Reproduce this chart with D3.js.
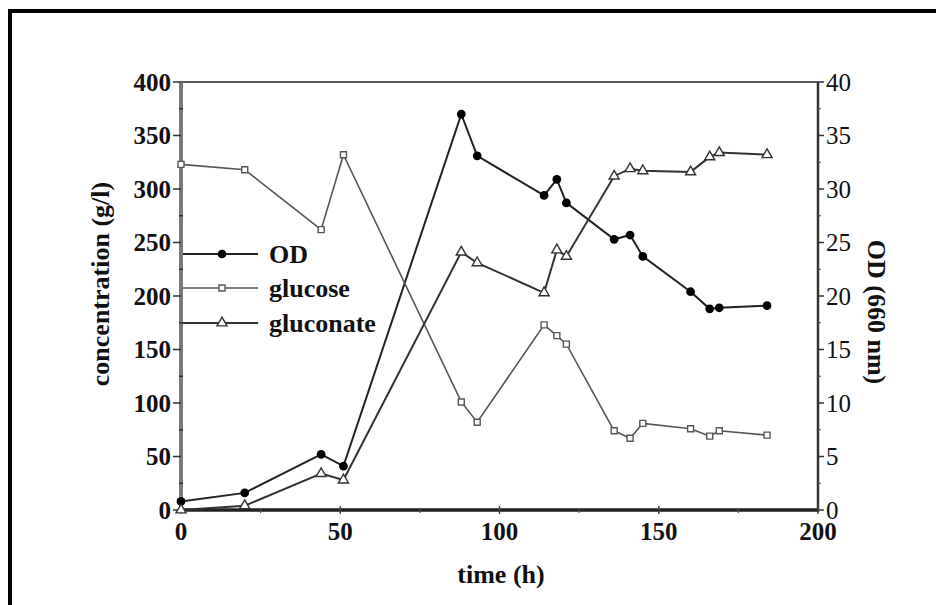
<!DOCTYPE html>
<html>
<head>
<meta charset="utf-8">
<script src="https://cdn.jsdelivr.net/npm/d3@7"></script>
<style>
	body { margin: 0; background: #fff; }
	svg { display: block; }
	text { font-family: "Liberation Serif", "DejaVu Serif", serif; fill: #111; }
</style>
</head>
<body>
<svg id="chart" width="936" height="605"></svg>
<script>
// time points (h)
var times = [0, 20, 44, 51, 88, 93, 114, 118, 121, 136, 141, 145, 160, 166, 169, 184];
// OD (660 nm), right axis
var odValues = [0.8, 1.6, 5.2, 4.1, 37.0, 33.1, 29.4, 30.9, 28.7, 25.3, 25.7, 23.7, 20.4, 18.8, 18.9, 19.1];
// glucose (g/l), left axis
var glucoseValues = [323, 318, 262, 332, 101, 82, 173, 163, 155, 74, 67, 81, 76, 69, 74, 70];
// gluconate (g/l), left axis
var gluconateValues = [0, 4, 34, 28, 241, 231, 203, 243, 237, 312, 319, 317, 316, 330, 334, 332];

var xTicks = [0, 50, 100, 150, 200];
var leftTicks = [0, 50, 100, 150, 200, 250, 300, 350, 400];
var rightTicks = [0, 5, 10, 15, 20, 25, 30, 35, 40];
var legendNames = ["OD", "glucose", "gluconate"];

var svg = d3.select("#chart");
var plotLeft = 181, plotRight = 818, plotTop = 82, plotBottom = 510;

var x = d3.scaleLinear().domain([0, 200]).range([plotLeft, plotRight]);
var yLeft = d3.scaleLinear().domain([0, 400]).range([plotBottom, plotTop]);
var yRight = d3.scaleLinear().domain([0, 40]).range([plotBottom, plotTop]);

// outer frame (runs off the right and bottom edge)
svg.append("rect")
	.attr("x", 10).attr("y", 11)
	.attr("width", 960).attr("height", 640)
	.attr("fill", "none")
	.attr("stroke", "#000")
	.attr("stroke-width", 4);

// top frame line
svg.append("line")
	.attr("x1", plotLeft).attr("x2", plotRight)
	.attr("y1", plotTop).attr("y2", plotTop)
	.attr("stroke", "#222").attr("stroke-width", 1.6);

// left axis
var leftAxis = svg.append("g").attr("transform", "translate(" + plotLeft + ",0)");
leftAxis.append("line")
	.attr("y1", plotTop).attr("y2", plotBottom + 2)
	.attr("stroke", "#7a7a7a").attr("stroke-width", 4);
leftAxis.selectAll("line.major").data(leftTicks).enter().append("line")
	.attr("class", "major")
	.attr("x1", -8).attr("x2", 0)
	.attr("y1", function (d) { return yLeft(d); })
	.attr("y2", function (d) { return yLeft(d); })
	.attr("stroke", "#333").attr("stroke-width", 1.5);
leftAxis.selectAll("line.minor").data(d3.range(25, 400, 50)).enter().append("line")
	.attr("class", "minor")
	.attr("x1", -2).attr("x2", 2)
	.attr("y1", function (d) { return yLeft(d); })
	.attr("y2", function (d) { return yLeft(d); })
	.attr("stroke", "#333").attr("stroke-width", 1.5);
leftAxis.selectAll("text").data(leftTicks).enter().append("text")
	.attr("x", -10)
	.attr("y", function (d) { return yLeft(d); })
	.attr("dy", "0.34em")
	.attr("text-anchor", "end")
	.attr("font-size", 25)
	.attr("font-weight", "bold")
	.text(function (d) { return d; });

// right axis
var rightAxis = svg.append("g").attr("transform", "translate(" + plotRight + ",0)");
rightAxis.append("line")
	.attr("y1", plotTop).attr("y2", plotBottom + 2)
	.attr("stroke", "#333").attr("stroke-width", 2.5);
rightAxis.selectAll("line.major").data(rightTicks).enter().append("line")
	.attr("class", "major")
	.attr("x1", 0).attr("x2", 6)
	.attr("y1", function (d) { return yRight(d); })
	.attr("y2", function (d) { return yRight(d); })
	.attr("stroke", "#333").attr("stroke-width", 1.5);
rightAxis.selectAll("line.minor").data(d3.range(2.5, 40, 5)).enter().append("line")
	.attr("class", "minor")
	.attr("x1", 0).attr("x2", 3)
	.attr("y1", function (d) { return yRight(d); })
	.attr("y2", function (d) { return yRight(d); })
	.attr("stroke", "#555").attr("stroke-width", 1.2);
rightAxis.selectAll("text").data(rightTicks).enter().append("text")
	.attr("x", 8)
	.attr("y", function (d) { return yRight(d); })
	.attr("dy", "0.34em")
	.attr("font-size", 25)
	.text(function (d) { return d; });

// bottom axis
var bottomAxis = svg.append("g").attr("transform", "translate(0," + plotBottom + ")");
bottomAxis.append("line")
	.attr("x1", plotLeft - 2).attr("x2", plotRight)
	.attr("stroke", "#222").attr("stroke-width", 3.5);
bottomAxis.selectAll("line.major").data(xTicks).enter().append("line")
	.attr("class", "major")
	.attr("x1", function (d) { return x(d); })
	.attr("x2", function (d) { return x(d); })
	.attr("y1", -4).attr("y2", 4)
	.attr("stroke", "#444").attr("stroke-width", 1.5);
bottomAxis.selectAll("line.minor").data(d3.range(25, 200, 50)).enter().append("line")
	.attr("class", "minor")
	.attr("x1", function (d) { return x(d); })
	.attr("x2", function (d) { return x(d); })
	.attr("y1", -2).attr("y2", 3)
	.attr("stroke", "#555").attr("stroke-width", 1.2);
bottomAxis.selectAll("text").data(xTicks).enter().append("text")
	.attr("x", function (d) { return x(d); })
	.attr("y", 30)
	.attr("text-anchor", "middle")
	.attr("font-size", 25)
	.attr("font-weight", "bold")
	.text(function (d) { return d; });

// axis titles
svg.append("text")
	.attr("transform", "translate(109,284) rotate(-90)")
	.attr("text-anchor", "middle")
	.attr("font-size", 26)
	.attr("font-weight", "bold")
	.text("concentration (g/l)");
svg.append("text")
	.attr("x", 501).attr("y", 583)
	.attr("text-anchor", "middle")
	.attr("font-size", 26)
	.attr("font-weight", "bold")
	.text("time (h)");
svg.append("text")
	.attr("transform", "translate(868,312) rotate(90)")
	.attr("text-anchor", "middle")
	.attr("font-size", 26)
	.attr("font-weight", "bold")
	.text("OD (660 nm)");

// series
var series = [
	{name: "OD", values: odValues, y: yRight, stroke: "#222", width: 2, marker: "circle"},
	{name: "glucose", values: glucoseValues, y: yLeft, stroke: "#555", width: 1.6, marker: "square"},
	{name: "gluconate", values: gluconateValues, y: yLeft, stroke: "#333", width: 2, marker: "triangle"}
];

var symbols = {
	circle: d3.symbol().type(d3.symbolCircle).size(60),
	square: d3.symbol().type(d3.symbolSquare).size(36),
	triangle: d3.symbol().type(d3.symbolTriangle).size(44)
};

function drawMarker(g, type, stroke) {
	g.append("path")
		.attr("d", symbols[type]())
		.attr("fill", type == "circle" ? "#000" : "#fff")
		.attr("stroke", type == "circle" ? "none" : stroke)
		.attr("stroke-width", 1.4);
}

series.forEach(function (s) {
	var pts = times.map(function (t, i) { return [t, s.values[i]]; });
	var line = d3.line()
		.x(function (d) { return x(d[0]); })
		.y(function (d) { return s.y(d[1]); });
	svg.append("path")
		.attr("d", line(pts))
		.attr("fill", "none")
		.attr("stroke", s.stroke)
		.attr("stroke-width", s.width);
	svg.append("g").selectAll("g").data(pts).enter().append("g")
		.attr("transform", function (d) { return "translate(" + x(d[0]) + "," + s.y(d[1]) + ")"; })
		.each(function () { drawMarker(d3.select(this), s.marker, s.stroke); });
});

// legend
var legendY = [254, 288, 323];
series.forEach(function (s, i) {
	var g = svg.append("g").attr("transform", "translate(0," + legendY[i] + ")");
	g.append("line")
		.attr("x1", 183).attr("x2", 258)
		.attr("stroke", s.stroke).attr("stroke-width", s.width);
	var m = g.append("g").attr("transform", "translate(222,0)");
	drawMarker(m, s.marker, s.stroke);
	g.append("text")
		.attr("x", 269).attr("dy", "0.35em")
		.attr("font-size", 26)
		.attr("font-weight", "bold")
		.text(legendNames[i]);
});
</script>
</body>
</html>
